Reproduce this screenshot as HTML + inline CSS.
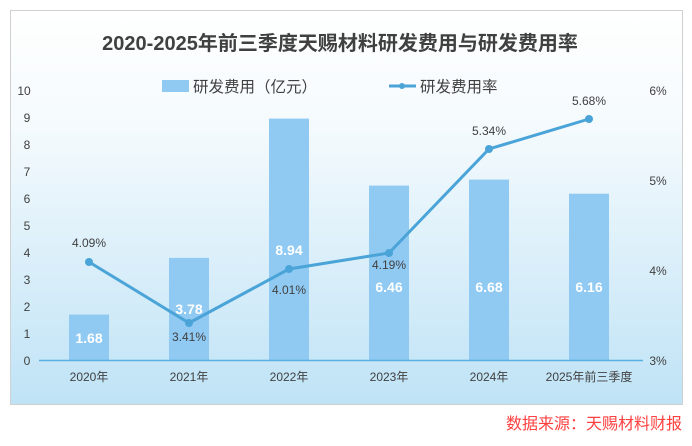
<!DOCTYPE html>
<html><head><meta charset="utf-8"><style>
body{margin:0;background:#fff;width:692px;height:441px;overflow:hidden;font-family:"Liberation Sans","Noto Sans CJK SC",sans-serif}
</style></head><body>
<svg width="692" height="441" xmlns="http://www.w3.org/2000/svg" style="font-family:'Liberation Sans','Noto Sans CJK SC',sans-serif">
<defs><linearGradient id="g" x1="0" y1="0" x2="0" y2="1">
<stop offset="0" stop-color="#ffffff"/><stop offset="0.3" stop-color="#f4fafd"/><stop offset="1" stop-color="#bfe3f6"/></linearGradient></defs>
<rect x="10.5" y="10.5" width="672" height="394" fill="url(#g)" stroke="#d0d0d0"/>
<text x="340" y="50" text-anchor="middle" font-size="20" font-weight="bold" fill="#404040">2020-2025年前三季度天赐材料研发费用与研发费用率</text>
<rect x="162" y="80" width="27" height="12" fill="#90caf3"/>
<text x="193" y="92" font-size="15.5" fill="#404040">研发费用（亿元）</text>
<line x1="389" y1="86" x2="416" y2="86" stroke="#4ba4d8" stroke-width="3"/><circle cx="402" cy="86" r="3" fill="#4ba4d8"/>
<text x="420" y="92" font-size="15.5" fill="#404040">研发费用率</text>
<g font-size="12" fill="#404040" text-anchor="middle">
<text x="24" y="95">10</text><text x="27" y="122">9</text><text x="27" y="149">8</text><text x="27" y="176">7</text><text x="27" y="203">6</text><text x="27" y="230">5</text><text x="27" y="257">4</text><text x="27" y="284">3</text><text x="27" y="311">2</text><text x="27" y="338">1</text><text x="27" y="365">0</text>
<text x="658" y="95">6%</text><text x="658" y="185">5%</text><text x="658" y="275">4%</text><text x="658" y="365">3%</text>
<text x="89" y="381">2020年</text><text x="189" y="381">2021年</text><text x="289" y="381">2022年</text><text x="389" y="381">2023年</text><text x="489" y="381">2024年</text><text x="589" y="381">2025年前三季度</text>
</g>
<g fill="#90caf3">
<rect x="69" y="314.6" width="40" height="45.4"/>
<rect x="169" y="257.9" width="40" height="102.1"/>
<rect x="269" y="118.6" width="40" height="241.4"/>
<rect x="369" y="185.6" width="40" height="174.4"/>
<rect x="469" y="179.6" width="40" height="180.4"/>
<rect x="569" y="193.7" width="40" height="166.3"/>
</g>
<line x1="39" y1="360.5" x2="643" y2="360.5" stroke="#5aaee0" stroke-width="1.5"/>
<polyline points="89,262 189,323 289,269 389,253 489,149 589,119" fill="none" stroke="#4ba4d8" stroke-width="3"/>
<g fill="#4ba4d8"><circle cx="89" cy="262" r="4"/><circle cx="189" cy="323" r="4"/><circle cx="289" cy="269" r="4"/><circle cx="389" cy="253" r="4"/><circle cx="489" cy="149" r="4"/><circle cx="589" cy="119" r="4"/></g>
<g font-size="14" font-weight="bold" fill="#fff" text-anchor="middle">
<text x="89" y="343">1.68</text><text x="189" y="314">3.78</text><text x="289" y="255">8.94</text><text x="389" y="292">6.46</text><text x="489" y="292">6.68</text><text x="589" y="292">6.16</text>
</g>
<g font-size="12" fill="#404040" text-anchor="middle">
<text x="89" y="247">4.09%</text><text x="189" y="341">3.41%</text><text x="289" y="294">4.01%</text><text x="389" y="269">4.19%</text><text x="489" y="135">5.34%</text><text x="589" y="105">5.68%</text>
</g>
<text x="682" y="429" text-anchor="end" font-size="16" fill="#ff4040">数据来源：天赐材料财报</text>
</svg>
</body></html>
